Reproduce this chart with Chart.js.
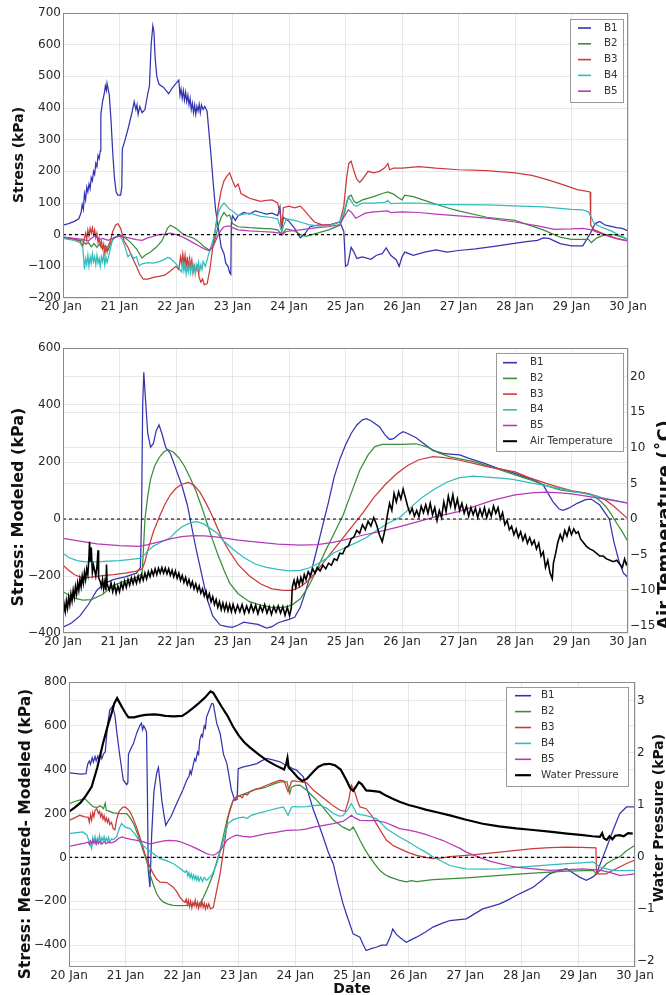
<!DOCTYPE html>
<html><head><meta charset="utf-8">
<script src="https://cdn.jsdelivr.net/npm/chart.js@4.4.1/dist/chart.umd.min.js"></script>
<style>
html,body{margin:0;padding:0;background:#fff;width:666px;height:995px;overflow:hidden;}
canvas{position:absolute;left:0;}
</style></head><body>
<canvas id="c1" width="666" height="320" style="top:0px"></canvas>
<canvas id="c2" width="666" height="330" style="top:320px"></canvas>
<canvas id="c3" width="666" height="345" style="top:650px"></canvas>
<script>
// ---------- DATA (day of January, value) ----------
const dayTicks = [20,21,22,23,24,25,26,27,28,29,30];
const seriesNames = ['B1','B2','B3','B4','B5'];
const p1_yTicks = [-200,-100,0,100,200,300,400,500,600,700];
const p2_yTicks = [-400,-200,0,200,400,600];
const p2_tempTicks = [-15,-10,-5,0,5,10,15,20];
const p3_yTicks = [-400,-200,0,200,400,600,800];
const p3_waterTicks = [-2,-1,0,1,2,3];

// Panel 1: Stress (kPa)
const p1_B1 = [[20.0,30],[20.1,35],[20.2,42],[20.28,50],[20.32,70],[20.34,95],[20.36,80],[20.38,130],[20.40,110],[20.42,150],[20.44,135],[20.46,160],[20.48,145],[20.50,180],[20.52,170],[20.54,200],[20.56,190],[20.58,225],[20.60,215],[20.62,250],[20.64,240],[20.66,265],[20.67,380],[20.70,420],[20.73,445],[20.75,470],[20.77,455],[20.78,478],[20.80,460],[20.82,440],[20.85,360],[20.88,260],[20.91,180],[20.94,135],[20.97,125],[21.02,125],[21.04,150],[21.05,270],[21.1,300],[21.16,340],[21.22,385],[21.26,420],[21.29,395],[21.31,410],[21.33,380],[21.36,405],[21.40,385],[21.45,395],[21.50,445],[21.53,470],[21.56,600],[21.59,660],[21.61,640],[21.63,560],[21.66,500],[21.70,475],[21.78,465],[21.87,445],[21.93,462],[22.0,478],[22.05,488],[22.07,440],[22.09,460],[22.11,430],[22.13,455],[22.15,425],[22.17,450],[22.19,420],[22.21,440],[22.23,410],[22.25,430],[22.27,395],[22.29,415],[22.31,385],[22.33,410],[22.35,380],[22.37,405],[22.39,390],[22.41,412],[22.43,385],[22.45,410],[22.48,395],[22.51,405],[22.55,390],[22.58,330],[22.62,250],[22.66,160],[22.70,80],[22.75,20],[22.8,-40],[22.85,-60],[22.88,-90],[22.92,-100],[22.95,-120],[22.97,-125],[22.98,40],[23.0,60],[23.05,45],[23.1,60],[23.2,70],[23.3,65],[23.4,75],[23.5,70],[23.6,65],[23.7,68],[23.8,60],[23.84,88],[23.87,15],[23.9,55],[24.0,42],[24.1,20],[24.2,-10],[24.27,0],[24.37,25],[24.5,30],[24.7,30],[24.9,40],[24.97,10],[25.0,-100],[25.04,-95],[25.1,-40],[25.15,-55],[25.2,-75],[25.3,-70],[25.45,-78],[25.55,-65],[25.65,-60],[25.72,-42],[25.8,-65],[25.9,-80],[25.95,-100],[26.0,-70],[26.05,-55],[26.2,-65],[26.4,-55],[26.6,-48],[26.8,-55],[27.0,-50],[27.3,-45],[27.6,-38],[27.9,-30],[28.2,-22],[28.4,-18],[28.5,-10],[28.6,-12],[28.8,-28],[29.0,-35],[29.2,-35],[29.32,0],[29.42,35],[29.5,42],[29.6,30],[29.8,22],[29.9,20],[30.0,12]];
const p1_B2 = [[20.0,-8],[20.1,-10],[20.2,-14],[20.3,-18],[20.35,-20],[20.4,-30],[20.45,-25],[20.5,-38],[20.55,-28],[20.6,-40],[20.65,-30],[20.7,-45],[20.75,-35],[20.8,-48],[20.85,-25],[20.9,-10],[21.0,0],[21.1,-10],[21.2,-25],[21.3,-45],[21.4,-74],[21.45,-65],[21.55,-55],[21.65,-40],[21.75,-20],[21.85,20],[21.9,30],[21.95,25],[22.0,20],[22.1,5],[22.2,-5],[22.3,-10],[22.4,-22],[22.5,-38],[22.6,-50],[22.65,-35],[22.7,-10],[22.75,30],[22.8,55],[22.85,70],[22.9,58],[22.95,62],[23.0,35],[23.1,25],[23.3,22],[23.5,20],[23.7,18],[23.8,15],[23.87,0],[23.95,18],[24.1,12],[24.2,0],[24.3,-5],[24.5,5],[24.7,15],[24.9,30],[24.97,60],[25.05,120],[25.1,125],[25.15,105],[25.2,100],[25.3,110],[25.5,120],[25.65,130],[25.75,135],[25.85,128],[25.95,115],[26.0,110],[26.05,125],[26.2,120],[26.5,102],[26.8,85],[27.0,75],[27.5,55],[28.0,45],[28.5,15],[28.8,-8],[29.0,-15],[29.3,-15],[29.35,-25],[29.45,-10],[29.6,0],[29.75,0],[29.9,-8],[30.0,-15]];
const p1_B3 = [[20.0,-10],[20.1,-12],[20.2,-15],[20.3,-20],[20.35,-35],[20.38,-10],[20.40,5],[20.42,-15],[20.44,15],[20.46,-5],[20.48,20],[20.50,5],[20.52,22],[20.54,0],[20.56,15],[20.58,-10],[20.60,5],[20.62,-25],[20.64,-10],[20.66,-35],[20.68,-20],[20.70,-45],[20.72,-30],[20.74,-60],[20.76,-40],[20.78,-55],[20.8,-35],[20.83,-25],[20.88,10],[20.93,30],[20.97,35],[21.02,20],[21.08,-20],[21.15,-40],[21.22,-70],[21.3,-100],[21.36,-125],[21.42,-140],[21.5,-140],[21.6,-135],[21.7,-132],[21.8,-128],[21.9,-115],[22.0,-100],[22.05,-110],[22.08,-70],[22.10,-90],[22.12,-60],[22.14,-95],[22.16,-65],[22.18,-105],[22.20,-70],[22.22,-110],[22.24,-75],[22.26,-100],[22.28,-80],[22.30,-120],[22.32,-95],[22.35,-115],[22.38,-100],[22.41,-135],[22.44,-150],[22.47,-140],[22.50,-158],[22.55,-155],[22.60,-110],[22.65,-40],[22.70,20],[22.75,90],[22.8,140],[22.85,170],[22.9,185],[22.95,195],[23.0,170],[23.05,150],[23.1,160],[23.15,130],[23.25,120],[23.3,115],[23.4,110],[23.5,105],[23.6,108],[23.7,110],[23.8,100],[23.85,60],[23.87,5],[23.9,85],[24.0,90],[24.1,85],[24.2,90],[24.28,75],[24.35,60],[24.45,40],[24.6,30],[24.75,32],[24.9,40],[24.97,90],[25.02,180],[25.06,225],[25.1,232],[25.15,200],[25.2,175],[25.25,165],[25.3,175],[25.4,200],[25.5,195],[25.6,200],[25.7,212],[25.75,225],[25.78,205],[25.85,210],[26.0,210],[26.3,215],[26.6,210],[27.0,205],[27.5,202],[28.0,195],[28.3,187],[28.6,172],[28.9,155],[29.1,142],[29.33,135],[29.34,30],[29.4,15],[29.6,0],[29.8,-12],[30.0,-20]];
const p1_B4 = [[20.0,-12],[20.1,-15],[20.2,-18],[20.3,-25],[20.35,-40],[20.38,-110],[20.40,-75],[20.42,-95],[20.44,-65],[20.46,-100],[20.48,-70],[20.50,-90],[20.52,-60],[20.54,-85],[20.56,-70],[20.58,-95],[20.60,-65],[20.62,-90],[20.64,-75],[20.66,-100],[20.68,-70],[20.70,-85],[20.72,-60],[20.74,-95],[20.76,-70],[20.78,-88],[20.8,-75],[20.83,-50],[20.87,-20],[20.92,-8],[21.0,-5],[21.05,-15],[21.1,-40],[21.15,-70],[21.2,-60],[21.25,-75],[21.3,-70],[21.35,-98],[21.4,-92],[21.5,-88],[21.6,-90],[21.7,-85],[21.8,-78],[21.85,-72],[21.9,-75],[22.0,-92],[22.1,-118],[22.12,-90],[22.14,-115],[22.16,-95],[22.18,-125],[22.20,-100],[22.22,-118],[22.24,-90],[22.26,-120],[22.28,-95],[22.30,-115],[22.32,-100],[22.34,-125],[22.36,-95],[22.38,-110],[22.40,-88],[22.42,-115],[22.44,-95],[22.46,-110],[22.48,-85],[22.52,-100],[22.58,-60],[22.65,-20],[22.7,20],[22.75,70],[22.8,90],[22.85,100],[22.9,90],[22.95,80],[23.0,75],[23.1,60],[23.2,65],[23.3,68],[23.5,58],[23.65,55],[23.8,50],[23.87,10],[23.95,50],[24.1,45],[24.2,40],[24.35,32],[24.5,28],[24.7,28],[24.9,40],[24.97,70],[25.03,110],[25.07,115],[25.15,92],[25.2,90],[25.3,100],[25.5,100],[25.7,102],[25.75,108],[25.8,98],[26.0,100],[26.3,100],[26.6,96],[27.0,95],[27.5,94],[28.0,91],[28.5,88],[29.0,80],[29.2,78],[29.3,72],[29.35,55],[29.4,35],[29.55,22],[29.7,12],[29.85,-2],[30.0,-15]];
const p1_B5 = [[20.0,-8],[20.2,-12],[20.35,-15],[20.45,-20],[20.5,-12],[20.55,-5],[20.6,-8],[20.65,-15],[20.7,-12],[20.8,-18],[20.9,-10],[21.0,-5],[21.1,-8],[21.2,-12],[21.3,-16],[21.4,-18],[21.5,-10],[21.6,-5],[21.7,0],[21.8,2],[21.9,5],[22.0,0],[22.1,-6],[22.2,-15],[22.3,-25],[22.4,-35],[22.5,-45],[22.58,-50],[22.65,-40],[22.7,-20],[22.75,0],[22.8,15],[22.85,25],[22.95,28],[23.0,22],[23.1,15],[23.3,12],[23.5,10],[23.7,8],[23.85,5],[23.87,-2],[23.95,10],[24.2,15],[24.5,22],[24.7,25],[24.9,32],[24.97,55],[25.05,78],[25.1,72],[25.18,52],[25.25,58],[25.35,68],[25.5,72],[25.75,75],[25.8,70],[26.0,72],[26.3,70],[26.6,65],[27.0,59],[27.5,52],[28.0,40],[28.4,28],[28.7,17],[29.0,18],[29.2,20],[29.35,15],[29.5,5],[29.7,-8],[29.85,-15],[30.0,-20]];

// Panel 2: Stress modeled (kPa) and air temperature (deg C)
const p2_B1 = [[20.0,-380],[20.15,-365],[20.3,-340],[20.45,-300],[20.6,-250],[20.75,-225],[20.9,-212],[21.1,-203],[21.3,-190],[21.37,-170],[21.39,0],[21.41,400],[21.43,515],[21.46,420],[21.5,300],[21.55,252],[21.6,265],[21.65,310],[21.7,330],[21.75,300],[21.82,250],[21.9,230],[22.0,175],[22.1,120],[22.2,50],[22.25,0],[22.35,-100],[22.45,-190],[22.55,-280],[22.65,-340],[22.78,-372],[22.9,-378],[23.0,-380],[23.1,-372],[23.2,-362],[23.3,-365],[23.45,-370],[23.6,-383],[23.7,-378],[23.8,-365],[23.9,-358],[24.0,-352],[24.1,-345],[24.2,-310],[24.3,-250],[24.4,-180],[24.5,-100],[24.6,-20],[24.7,60],[24.8,148],[24.9,210],[25.0,260],[25.1,300],[25.2,330],[25.3,348],[25.37,352],[25.45,345],[25.6,324],[25.7,295],[25.78,279],[25.85,282],[25.95,298],[26.02,306],[26.1,300],[26.25,285],[26.4,262],[26.55,240],[26.73,230],[26.85,228],[27.02,225],[27.2,212],[27.46,195],[27.7,178],[28.0,160],[28.2,145],[28.35,135],[28.5,119],[28.67,61],[28.78,35],[28.85,30],[28.95,38],[29.1,55],[29.25,68],[29.35,70],[29.5,49],[29.6,20],[29.67,0],[29.75,-80],[29.85,-155],[29.92,-190],[30.0,-205]];
const p2_B2 = [[20.0,-255],[20.2,-278],[20.35,-285],[20.5,-283],[20.7,-265],[20.9,-232],[21.1,-218],[21.3,-205],[21.4,-192],[21.42,-120],[21.45,0],[21.5,80],[21.55,140],[21.62,185],[21.7,215],[21.78,235],[21.86,243],[21.95,235],[22.05,215],[22.15,185],[22.25,145],[22.35,100],[22.45,45],[22.55,-15],[22.65,-75],[22.75,-130],[22.85,-180],[22.95,-225],[23.1,-262],[23.3,-290],[23.5,-302],[23.7,-310],[23.9,-310],[24.05,-302],[24.2,-280],[24.35,-235],[24.5,-175],[24.65,-110],[24.8,-50],[24.95,10],[25.1,90],[25.25,170],[25.4,225],[25.52,254],[25.65,262],[25.8,262],[26.0,262],[26.25,264],[26.45,252],[26.65,232],[26.85,218],[27.0,212],[27.25,202],[27.46,190],[27.7,175],[28.0,155],[28.3,135],[28.55,117],[28.8,102],[29.0,96],[29.2,92],[29.35,86],[29.5,65],[29.61,43],[29.7,18],[29.8,-15],[29.9,-45],[30.0,-80]];
const p2_B3 = [[20.0,-162],[20.1,-180],[20.2,-195],[20.35,-207],[20.5,-204],[20.7,-199],[20.9,-195],[21.1,-190],[21.3,-183],[21.4,-176],[21.45,-150],[21.5,-110],[21.6,-45],[21.7,5],[21.8,50],[21.9,85],[22.0,108],[22.1,122],[22.22,128],[22.32,118],[22.42,95],[22.52,60],[22.62,20],[22.72,-25],[22.82,-70],[22.95,-115],[23.1,-160],[23.3,-200],[23.5,-228],[23.7,-245],[23.9,-250],[24.05,-250],[24.2,-238],[24.35,-215],[24.5,-180],[24.7,-130],[24.9,-80],[25.1,-30],[25.3,20],[25.5,75],[25.7,120],[25.9,158],[26.1,188],[26.3,208],[26.55,219],[26.75,215],[27.0,207],[27.25,196],[27.5,184],[27.75,175],[28.0,165],[28.25,145],[28.55,125],[28.8,110],[29.0,100],[29.26,91],[29.45,80],[29.6,67],[29.75,45],[29.9,18],[30.0,0]];
const p2_B4 = [[20.0,-120],[20.1,-135],[20.25,-146],[20.4,-150],[20.6,-150],[20.8,-148],[21.0,-146],[21.2,-142],[21.35,-138],[21.42,-130],[21.5,-112],[21.6,-95],[21.75,-80],[21.89,-67],[22.0,-45],[22.1,-28],[22.2,-18],[22.3,-11],[22.37,-9],[22.5,-18],[22.6,-32],[22.73,-50],[22.85,-78],[23.02,-108],[23.2,-135],[23.4,-158],[23.6,-170],[23.8,-177],[24.0,-182],[24.2,-180],[24.35,-172],[24.5,-158],[24.65,-140],[24.78,-120],[25.0,-100],[25.2,-82],[25.37,-65],[25.55,-40],[25.75,-15],[25.96,5],[26.15,40],[26.35,75],[26.55,102],[26.8,130],[27.02,145],[27.26,150],[27.5,147],[27.75,143],[27.96,139],[28.25,128],[28.55,117],[28.9,102],[29.26,88],[29.6,72],[30.0,56]];
const p2_B5 = [[20.0,-68],[20.3,-78],[20.6,-87],[21.0,-93],[21.36,-96],[21.5,-90],[21.7,-80],[21.9,-70],[22.1,-62],[22.3,-58],[22.5,-59],[22.7,-63],[22.9,-68],[23.1,-74],[23.4,-80],[23.8,-88],[24.2,-92],[24.5,-90],[24.78,-82],[25.0,-72],[25.3,-57],[25.6,-44],[25.96,-27],[26.3,-8],[26.6,8],[27.0,26],[27.3,45],[27.6,65],[28.0,85],[28.3,92],[28.55,94],[28.8,92],[29.0,88],[29.26,80],[29.6,70],[30.0,56]];
const p2_Air = [[20.00,-13.5],[20.02,-12],[20.04,-13],[20.06,-11.5],[20.08,-12.5],[20.10,-11],[20.12,-12],[20.14,-10.5],[20.16,-11.5],[20.18,-10],[20.20,-11],[20.22,-9.5],[20.24,-10.5],[20.26,-9],[20.28,-10],[20.30,-8.5],[20.32,-9.5],[20.34,-8],[20.36,-9],[20.38,-7.5],[20.40,-8.5],[20.42,-7],[20.44,-7.8],[20.46,-5.2],[20.47,-3.2],[20.48,-6],[20.50,-4],[20.52,-7.5],[20.54,-6.5],[20.56,-7.2],[20.58,-8],[20.60,-6.8],[20.62,-4.4],[20.63,-8.2],[20.66,-8.8],[20.68,-9.5],[20.70,-8.5],[20.72,-9.8],[20.74,-8.8],[20.76,-10],[20.77,-6.4],[20.78,-9],[20.80,-9.6],[20.82,-10],[20.85,-9],[20.88,-10.2],[20.91,-9.2],[20.94,-10.4],[20.97,-9.4],[21.00,-10.2],[21.03,-9],[21.06,-9.8],[21.09,-8.7],[21.12,-9.6],[21.15,-8.5],[21.18,-9.3],[21.21,-8.3],[21.24,-9.1],[21.27,-8.2],[21.30,-9],[21.33,-8],[21.36,-8.8],[21.39,-7.8],[21.42,-8.6],[21.45,-7.6],[21.48,-8.4],[21.51,-7.4],[21.54,-8.1],[21.57,-7.2],[21.60,-7.9],[21.63,-7],[21.66,-7.8],[21.69,-6.9],[21.72,-7.6],[21.75,-6.8],[21.78,-7.6],[21.81,-6.9],[21.84,-7.7],[21.87,-7],[21.90,-7.9],[21.93,-7.2],[21.96,-8.1],[21.99,-7.3],[22.02,-8.3],[22.05,-7.6],[22.08,-8.6],[22.11,-7.9],[22.14,-8.9],[22.17,-8.2],[22.20,-9.2],[22.23,-8.5],[22.26,-9.5],[22.29,-8.8],[22.32,-9.8],[22.35,-9.1],[22.38,-10.1],[22.41,-9.4],[22.44,-10.4],[22.47,-9.8],[22.50,-10.8],[22.53,-10.1],[22.56,-11.2],[22.59,-10.5],[22.62,-11.6],[22.65,-10.9],[22.68,-12],[22.71,-11.3],[22.74,-12.4],[22.77,-11.6],[22.80,-12.7],[22.83,-11.8],[22.86,-12.8],[22.89,-11.9],[22.92,-12.9],[22.95,-12],[22.98,-13],[23.01,-12],[23.05,-13.1],[23.09,-12.1],[23.13,-13],[23.17,-12],[23.21,-13.2],[23.25,-12.2],[23.29,-13.1],[23.33,-12],[23.37,-13],[23.41,-12.1],[23.45,-13.3],[23.49,-12.2],[23.53,-13],[23.57,-12],[23.61,-13.2],[23.65,-12.3],[23.69,-13.4],[23.73,-12.3],[23.77,-13.1],[23.81,-12.2],[23.85,-13.2],[23.89,-12.3],[23.93,-13.5],[23.97,-12.4],[24.01,-13.6],[24.04,-12.5],[24.06,-9.5],[24.09,-8.6],[24.12,-9.6],[24.15,-8.4],[24.18,-9.3],[24.21,-8.2],[24.24,-9],[24.27,-7.8],[24.30,-8.5],[24.34,-7.4],[24.38,-8],[24.42,-7],[24.46,-7.6],[24.50,-6.8],[24.55,-7.3],[24.60,-6.5],[24.65,-7],[24.70,-6.2],[24.75,-6.5],[24.80,-5.6],[24.85,-5.8],[24.90,-4.8],[24.95,-4.9],[25.00,-4],[25.05,-3.8],[25.10,-2.8],[25.15,-2.5],[25.20,-1.6],[25.25,-2],[25.30,-0.8],[25.35,-1.5],[25.40,-0.3],[25.45,-1],[25.50,0.2],[25.55,-0.8],[25.60,-2.2],[25.65,-3.2],[25.70,-1.5],[25.74,0.5],[25.78,2.2],[25.82,1.2],[25.86,3.6],[25.90,2.4],[25.94,3.8],[25.98,2.8],[26.02,4.2],[26.06,3],[26.10,1.8],[26.14,0.8],[26.18,1.5],[26.22,0.4],[26.26,1.2],[26.30,0.3],[26.34,1.8],[26.38,0.9],[26.42,2],[26.46,0.8],[26.50,2.2],[26.54,0.6],[26.58,1.6],[26.62,-0.2],[26.66,1.2],[26.70,0.2],[26.74,2.4],[26.78,1],[26.82,3.2],[26.86,1.8],[26.90,3.4],[26.94,1.5],[26.98,2.8],[27.02,1.2],[27.06,2.2],[27.10,0.8],[27.14,1.8],[27.18,0.4],[27.22,1.6],[27.26,0.6],[27.30,1.5],[27.34,0.2],[27.38,1.4],[27.42,0.4],[27.46,1.6],[27.50,0.2],[27.54,1.3],[27.58,0.4],[27.62,1.8],[27.66,0.8],[27.70,1.6],[27.74,0],[27.78,0.9],[27.82,-0.8],[27.86,-0.2],[27.90,-1.5],[27.94,-1],[27.98,-2.2],[28.02,-1.4],[28.06,-2.6],[28.10,-1.8],[28.14,-3],[28.18,-2.2],[28.22,-3.4],[28.26,-2.6],[28.30,-3.6],[28.34,-3],[28.38,-4.2],[28.42,-3.4],[28.46,-5.2],[28.50,-4.6],[28.54,-6.8],[28.58,-5.8],[28.62,-7.6],[28.66,-8.4],[28.68,-6.2],[28.72,-4.8],[28.76,-3.2],[28.80,-2.2],[28.84,-3],[28.88,-1.6],[28.92,-2.4],[28.96,-1.2],[29.00,-2.2],[29.04,-1.4],[29.08,-2],[29.12,-1.8],[29.16,-2.8],[29.20,-3.2],[29.26,-3.8],[29.32,-4.2],[29.38,-4.4],[29.44,-4.8],[29.50,-5.2],[29.56,-5.2],[29.62,-5.6],[29.68,-5.8],[29.74,-6],[29.80,-5.8],[29.86,-6.4],[29.90,-6.8],[29.94,-5.6],[29.97,-6.4],[30.00,-6]];

// Panel 3: Stress measured - modeled (kPa) and water pressure (kPa)
const p3_B1 = [[20.0,385],[20.1,383],[20.2,380],[20.3,382],[20.33,425],[20.36,440],[20.38,425],[20.41,455],[20.43,435],[20.46,460],[20.48,440],[20.51,462],[20.53,445],[20.56,468],[20.58,450],[20.61,472],[20.64,481],[20.68,600],[20.72,672],[20.77,690],[20.81,649],[20.85,560],[20.9,459],[20.96,352],[21.02,332],[21.04,340],[21.05,470],[21.1,500],[21.14,520],[21.2,570],[21.25,600],[21.28,612],[21.3,582],[21.32,600],[21.34,590],[21.37,573],[21.385,300],[21.40,-59],[21.43,-136],[21.46,100],[21.5,300],[21.55,385],[21.58,410],[21.61,340],[21.64,260],[21.68,190],[21.71,146],[21.75,165],[21.8,185],[21.9,245],[22.0,300],[22.08,352],[22.12,370],[22.14,395],[22.16,380],[22.2,428],[22.22,450],[22.24,440],[22.27,480],[22.29,470],[22.31,535],[22.34,560],[22.36,550],[22.39,600],[22.41,590],[22.43,641],[22.46,660],[22.49,680],[22.52,702],[22.55,700],[22.61,611],[22.67,565],[22.73,470],[22.79,428],[22.87,306],[22.93,260],[22.97,265],[22.99,405],[23.08,413],[23.2,420],[23.32,428],[23.4,440],[23.49,451],[23.6,445],[23.73,436],[23.8,425],[23.85,420],[23.95,405],[24.02,398],[24.14,367],[24.22,300],[24.32,215],[24.4,160],[24.49,93],[24.58,25],[24.67,-30],[24.75,-120],[24.84,-210],[24.9,-258],[25.02,-349],[25.14,-364],[25.2,-400],[25.25,-425],[25.35,-415],[25.43,-410],[25.52,-400],[25.61,-400],[25.68,-360],[25.72,-326],[25.78,-350],[25.84,-364],[25.96,-387],[26.05,-375],[26.14,-364],[26.3,-340],[26.43,-318],[26.6,-300],[26.73,-288],[27.02,-280],[27.15,-260],[27.31,-235],[27.45,-225],[27.61,-212],[27.75,-195],[27.9,-174],[28.05,-155],[28.2,-136],[28.35,-105],[28.49,-75],[28.65,-60],[28.79,-52],[28.9,-70],[29.02,-90],[29.14,-105],[29.25,-90],[29.32,-75],[29.43,0],[29.52,60],[29.61,123],[29.73,200],[29.85,230],[30.0,230]];
const p3_B2 = [[20.0,245],[20.1,255],[20.2,262],[20.28,268],[20.35,250],[20.43,230],[20.5,228],[20.55,235],[20.61,222],[20.64,248],[20.66,215],[20.72,210],[20.78,203],[20.9,200],[21.02,200],[21.08,180],[21.14,154],[21.2,115],[21.25,78],[21.31,30],[21.37,-14],[21.43,-75],[21.49,-125],[21.55,-166],[21.61,-190],[21.67,-204],[21.75,-213],[21.84,-219],[21.96,-220],[22.08,-219],[22.2,-216],[22.31,-212],[22.37,-185],[22.43,-151],[22.49,-115],[22.55,-75],[22.61,-20],[22.67,32],[22.73,100],[22.79,169],[22.85,225],[22.9,260],[22.96,276],[23.02,283],[23.1,290],[23.2,300],[23.3,310],[23.4,315],[23.49,321],[23.6,333],[23.73,344],[23.85,344],[23.9,291],[23.93,320],[24.0,328],[24.08,329],[24.2,306],[24.3,280],[24.38,260],[24.5,225],[24.67,170],[24.84,138],[24.96,123],[25.02,138],[25.08,110],[25.14,78],[25.22,40],[25.31,2],[25.4,-30],[25.49,-59],[25.58,-78],[25.67,-90],[25.84,-105],[25.96,-112],[26.05,-106],[26.14,-110],[26.43,-102],[27.02,-93],[27.61,-82],[28.2,-72],[28.79,-63],[29.26,-59],[29.32,-75],[29.4,-55],[29.49,-30],[29.6,-12],[29.73,3],[29.85,30],[30.0,55]];
const p3_B3 = [[20.0,169],[20.1,180],[20.19,192],[20.28,185],[20.34,183],[20.36,160],[20.38,195],[20.40,170],[20.42,205],[20.44,185],[20.46,215],[20.49,222],[20.52,200],[20.54,210],[20.56,185],[20.58,200],[20.60,175],[20.62,190],[20.64,165],[20.66,180],[20.68,160],[20.70,175],[20.72,150],[20.75,160],[20.78,131],[20.81,125],[20.84,170],[20.87,200],[20.9,215],[20.95,228],[20.99,230],[21.04,220],[21.08,207],[21.13,180],[21.17,154],[21.21,125],[21.25,93],[21.3,55],[21.34,17],[21.43,-44],[21.49,-75],[21.55,-100],[21.61,-113],[21.73,-115],[21.84,-136],[21.9,-155],[21.96,-181],[22.02,-200],[22.05,-205],[22.07,-190],[22.09,-215],[22.11,-195],[22.13,-225],[22.15,-200],[22.17,-230],[22.19,-205],[22.21,-220],[22.23,-195],[22.25,-225],[22.27,-205],[22.29,-232],[22.31,-210],[22.33,-225],[22.35,-200],[22.37,-228],[22.39,-210],[22.41,-235],[22.43,-215],[22.45,-230],[22.47,-212],[22.50,-235],[22.55,-228],[22.61,-151],[22.67,-75],[22.73,32],[22.81,184],[22.9,260],[22.96,276],[23.02,280],[23.06,272],[23.1,290],[23.15,285],[23.2,300],[23.3,312],[23.4,318],[23.49,329],[23.6,340],[23.73,352],[23.8,348],[23.87,300],[23.93,345],[23.96,350],[24.08,345],[24.2,340],[24.32,306],[24.45,280],[24.55,260],[24.67,235],[24.79,215],[24.88,210],[24.94,260],[24.99,329],[25.05,298],[25.1,255],[25.14,230],[25.25,222],[25.35,190],[25.43,154],[25.52,115],[25.61,78],[25.72,55],[25.84,40],[26.0,22],[26.14,9],[26.3,0],[26.43,-6],[26.6,-2],[26.73,3],[27.02,9],[27.3,16],[27.61,24],[27.9,32],[28.2,40],[28.5,44],[28.79,47],[29.05,46],[29.31,43],[29.32,-75],[29.49,-75],[29.67,-52],[29.85,-28],[30.0,-12]];
const p3_B4 = [[20.0,108],[20.1,112],[20.25,116],[20.32,100],[20.34,85],[20.36,70],[20.40,40],[20.42,90],[20.44,70],[20.46,95],[20.48,65],[20.50,88],[20.52,72],[20.54,100],[20.56,68],[20.58,90],[20.60,75],[20.62,95],[20.64,70],[20.66,88],[20.68,74],[20.70,92],[20.72,68],[20.75,85],[20.78,80],[20.84,93],[20.9,140],[20.93,154],[20.99,138],[21.08,131],[21.17,105],[21.25,70],[21.31,55],[21.37,40],[21.45,25],[21.53,10],[21.61,-6],[21.72,-15],[21.84,-28],[21.96,-50],[22.05,-68],[22.08,-60],[22.10,-85],[22.12,-70],[22.14,-92],[22.16,-75],[22.18,-98],[22.20,-80],[22.22,-100],[22.24,-85],[22.26,-105],[22.28,-88],[22.30,-108],[22.33,-90],[22.36,-110],[22.39,-92],[22.43,-105],[22.47,-95],[22.52,-82],[22.56,-60],[22.61,-28],[22.66,15],[22.7,47],[22.76,110],[22.81,154],[22.9,172],[23.0,180],[23.08,184],[23.15,178],[23.22,192],[23.32,200],[23.4,205],[23.55,215],[23.65,222],[23.79,230],[23.87,192],[23.93,228],[23.96,232],[24.08,230],[24.2,232],[24.32,236],[24.43,238],[24.55,225],[24.67,200],[24.78,188],[24.84,190],[24.92,215],[24.99,245],[25.04,222],[25.08,200],[25.15,195],[25.23,192],[25.33,185],[25.43,177],[25.52,155],[25.61,131],[25.72,112],[25.84,93],[26.0,70],[26.14,47],[26.3,24],[26.43,3],[26.6,-20],[26.73,-37],[26.9,-47],[27.02,-52],[27.3,-54],[27.61,-52],[27.9,-46],[28.2,-40],[28.5,-34],[28.79,-29],[29.05,-25],[29.26,-21],[29.38,-44],[29.5,-52],[29.61,-59],[29.8,-60],[30.0,-59]];
const p3_B5 = [[20.0,50],[20.15,58],[20.3,66],[20.34,70],[20.36,58],[20.38,75],[20.40,62],[20.42,78],[20.44,64],[20.46,76],[20.48,60],[20.50,74],[20.52,62],[20.55,75],[20.58,60],[20.62,72],[20.66,62],[20.7,70],[20.75,66],[20.81,72],[20.87,85],[20.93,93],[21.0,88],[21.1,82],[21.2,78],[21.3,72],[21.43,62],[21.55,68],[21.7,76],[21.78,78],[21.9,75],[21.96,72],[22.08,60],[22.2,47],[22.3,34],[22.43,17],[22.5,12],[22.55,10],[22.61,18],[22.67,32],[22.73,52],[22.79,78],[22.87,92],[22.96,101],[23.08,96],[23.2,93],[23.35,100],[23.49,108],[23.65,114],[23.85,123],[24.08,125],[24.2,130],[24.32,138],[24.5,146],[24.67,154],[24.85,165],[24.99,192],[25.05,180],[25.14,169],[25.3,168],[25.43,169],[25.6,158],[25.72,145],[25.84,131],[26.0,124],[26.14,116],[26.3,105],[26.43,93],[26.6,78],[26.73,62],[26.9,42],[27.02,24],[27.15,10],[27.31,-6],[27.45,-18],[27.61,-28],[27.75,-37],[27.9,-44],[28.2,-52],[28.49,-59],[28.8,-56],[29.08,-52],[29.38,-58],[29.55,-68],[29.73,-82],[29.85,-80],[30.0,-75]];
const p3_Water = [[20.0,0.87],[20.1,0.95],[20.2,1.04],[20.3,1.18],[20.4,1.35],[20.5,1.72],[20.6,2.18],[20.7,2.58],[20.75,2.75],[20.8,2.95],[20.85,3.05],[20.9,2.95],[20.95,2.85],[21.0,2.76],[21.05,2.68],[21.15,2.68],[21.25,2.71],[21.35,2.73],[21.5,2.74],[21.6,2.73],[21.7,2.71],[21.85,2.70],[22.0,2.71],[22.1,2.78],[22.2,2.87],[22.3,2.96],[22.4,3.06],[22.5,3.18],[22.55,3.15],[22.6,3.06],[22.7,2.88],[22.8,2.71],[22.9,2.50],[23.0,2.33],[23.1,2.20],[23.2,2.10],[23.35,1.97],[23.5,1.85],[23.65,1.76],[23.8,1.68],[23.84,1.80],[23.86,1.90],[23.88,1.72],[23.95,1.64],[24.05,1.52],[24.12,1.46],[24.2,1.50],[24.3,1.62],[24.4,1.73],[24.5,1.78],[24.6,1.79],[24.7,1.76],[24.8,1.68],[24.9,1.48],[24.97,1.32],[25.02,1.27],[25.07,1.35],[25.12,1.44],[25.17,1.40],[25.25,1.28],[25.35,1.27],[25.49,1.25],[25.6,1.18],[25.72,1.12],[25.84,1.06],[26.0,1.0],[26.14,0.96],[26.3,0.91],[26.5,0.86],[26.73,0.80],[27.0,0.72],[27.31,0.64],[27.6,0.59],[27.9,0.55],[28.2,0.52],[28.49,0.49],[28.8,0.45],[29.08,0.42],[29.25,0.40],[29.38,0.39],[29.42,0.46],[29.45,0.36],[29.5,0.33],[29.55,0.40],[29.6,0.34],[29.65,0.41],[29.73,0.42],[29.8,0.40],[29.88,0.46],[29.96,0.45]];

// ---------- STYLE ----------
const FONT = '"DejaVu Sans", "Liberation Sans", sans-serif';
const COLORS = {B1:'rgb(52,52,178)', B2:'rgb(58,142,58)', B3:'rgb(204,58,58)', B4:'rgb(48,188,188)', B5:'rgb(182,58,182)', K:'#000000'};
const GRID = 'rgba(0,0,0,0.09)';
const TICKC = '#262626';

Chart.defaults.font.family = FONT;
Chart.defaults.font.size = 12;
Chart.defaults.color = TICKC;

const toXY = arr => arr.map(p => ({x:p[0], y:p[1]}));
const fmtMinus = v => String(v).replace('-', '\u2212');

function lineDS(label, data, color, width, axis, order) {
  return {label, data: toXY(data), borderColor: color, backgroundColor: color, borderWidth: width,
    pointRadius: 0, tension: 0, fill: false, yAxisID: axis, order};
}
function zeroDS() {
  return {label:'zero', data:[{x:20,y:0},{x:30,y:0}], borderColor:'#000', borderWidth:1.1,
    borderDash:[3,3], pointRadius:0, yAxisID:'y', order:0};
}

const decor = {
  id: 'decor',
  afterDraw(chart, args, o) {
    const ctx = chart.ctx, a = chart.chartArea;
    ctx.save();
    ctx.strokeStyle = '#8a8a8a'; ctx.lineWidth = 1;
    ctx.strokeRect(Math.round(a.left) + 0.5, Math.round(a.top) + 0.5, Math.round(a.right - a.left) - 1, Math.round(a.bottom - a.top) - 1);
    const L = o.legend;
    ctx.fillStyle = '#ffffff'; ctx.fillRect(L.x, L.y, L.w, L.h);
    ctx.strokeStyle = '#9a9a9a'; ctx.lineWidth = 1;
    ctx.strokeRect(L.x + 0.5, L.y + 0.5, L.w, L.h);
    ctx.font = L.font + 'px ' + FONT; ctx.textBaseline = 'middle'; ctx.textAlign = 'left';
    L.items.forEach((it, i) => {
      const y = L.y0 + i * L.dy;
      ctx.strokeStyle = it.color; ctx.lineWidth = it.w;
      ctx.beginPath(); ctx.moveTo(L.lx, y); ctx.lineTo(L.lx + L.ll, y); ctx.stroke();
      ctx.fillStyle = '#333'; ctx.fillText(it.label, L.tx, y);
    });
    o.titles.forEach(t => {
      ctx.save();
      ctx.translate(t.x, t.y); ctx.rotate(t.rot);
      ctx.font = 'bold ' + t.size + 'px ' + FONT;
      ctx.fillStyle = '#111'; ctx.textAlign = 'center'; ctx.textBaseline = 'middle';
      ctx.fillText(t.text, 0, 0);
      ctx.restore();
    });
    ctx.restore();
  }
};

function xScale(height) {
  return {type:'linear', min: dayTicks[0], max: dayTicks[dayTicks.length-1],
    afterBuildTicks: s => { s.ticks = dayTicks.map(v => ({value:v})); },
    ticks: {callback: v => v + ' Jan', padding: 2, maxRotation: 0, autoSkip: false, font:{size:12}},
    grid: {color: GRID, drawTicks: false}, border: {display: false},
    afterFit: s => { s.height = height; }};
}
function yScale(pos, min, max, tickVals, width) {
  return {type:'linear', position: pos, min, max,
    afterBuildTicks: s => { s.ticks = tickVals.map(v => ({value:v})); },
    ticks: {padding: 2, autoSkip: false, callback: v => fmtMinus(v), font:{size:12}},
    grid: {color: GRID, drawTicks: false, drawOnChartArea: true}, border: {display: false},
    afterFit: s => { s.width = width; }};
}

function build(id, datasets, scales, padding, decorOpts) {
  new Chart(document.getElementById(id), {
    type: 'line',
    data: {datasets},
    options: {
      responsive: false, animation: false, devicePixelRatio: 1,
      layout: {padding},
      scales,
      plugins: {legend:{display:false}, tooltip:{enabled:false}, decor: decorOpts}
    },
    plugins: [decor]
  });
}

const ROT = -Math.PI / 2;
const bSeries = (arrs) => arrs.map((arr, i) => lineDS(seriesNames[i], arr, COLORS[seriesNames[i]], 1.25, 'y', 6 - i));
const legendItems = (extra) => seriesNames.map(n => ({label:n, color:COLORS[n], w:1.6})).concat(extra ? [extra] : []);

// Panel 1
build('c1',
  [zeroDS()].concat(bSeries([p1_B1, p1_B2, p1_B3, p1_B4, p1_B5])),
  {x: xScale(22), y: yScale('left', -200, 700, p1_yTicks, 63)},
  {top: 13, right: 38, left: 0, bottom: 0},
  {legend: {x:570, y:19, w:53, h:83, y0:28, dy:15.8, lx:578, ll:13, tx:604, font:10.3, items: legendItems(null)},
   titles: [{text:'Stress (kPa)', x:19, y:155, size:14, rot:ROT}]});

// Panel 2
build('c2',
  [zeroDS(), lineDS('Air Temperature', p2_Air, COLORS.K, 1.6, 'y2', 1)].concat(bSeries([p2_B1, p2_B2, p2_B3, p2_B4, p2_B5])),
  {x: xScale(17), y: yScale('left', -400, 600, p2_yTicks, 63), y2: yScale('right', -16, 24, p2_tempTicks, 38)},
  {top: 28, right: 0, left: 0, bottom: 0},
  {legend: {x:496, y:33, w:127, h:98, y0:42.7, dy:15.7, lx:503, ll:14, tx:530, font:10.3,
     items: legendItems({label:'Air Temperature', color:COLORS.K, w:2})},
   titles: [{text:'Stress: Modeled (kPa)', x:19, y:187, size:16, rot:ROT},
            {text:'Air Temperature (\u02DAC)', x:665, y:205, size:18, rot:ROT}]});

// Panel 3
build('c3',
  [zeroDS(), lineDS('Water Pressure', p3_Water, COLORS.K, 2.2, 'y2', 1)].concat(bSeries([p3_B1, p3_B2, p3_B3, p3_B4, p3_B5])),
  {x: xScale(28), y: yScale('left', -500, 800, p3_yTicks, 69), y2: yScale('right', -2.11, 3.36, p3_waterTicks, 31)},
  {top: 32, right: 0, left: 0, bottom: 0},
  {legend: {x:506, y:37, w:122, h:99, y0:45.7, dy:15.9, lx:515, ll:16, tx:541, font:10.3,
     items: legendItems({label:'Water Pressure', color:COLORS.K, w:2.2})},
   titles: [{text:'Stress: Measured- Modeled (kPa)', x:26, y:184, size:15.5, rot:ROT},
            {text:'Water Pressure (kPa)', x:659, y:168, size:14, rot:ROT},
            {text:'Date', x:352, y:339, size:14, rot:0}]});
</script></body></html>
